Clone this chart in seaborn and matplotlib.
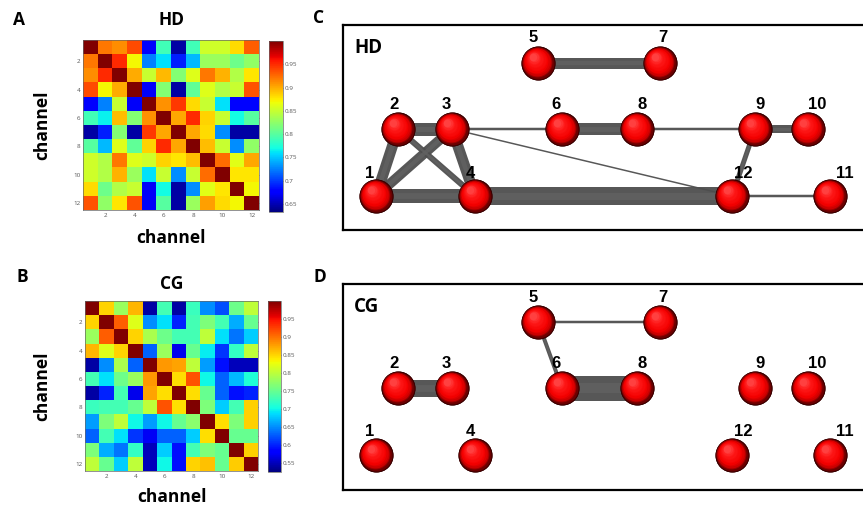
import numpy as np
import pandas as pd
import seaborn as sns
import matplotlib
matplotlib.use("Agg")
import matplotlib.pyplot as plt
from matplotlib.colors import to_rgb

# ---------------------------------------------------------------- data
channels = list(range(1, 13))

# channel-by-channel correlation, HD group
hd_corr = [
    [1.000, 0.920, 0.912, 0.937, 0.675, 0.790, 0.645, 0.790, 0.853, 0.853, 0.882, 0.930],
    [0.920, 1.000, 0.950, 0.870, 0.725, 0.760, 0.690, 0.745, 0.830, 0.830, 0.810, 0.826],
    [0.912, 0.950, 1.000, 0.900, 0.850, 0.895, 0.820, 0.860, 0.920, 0.898, 0.840, 0.878],
    [0.937, 0.870, 0.900, 1.000, 0.672, 0.820, 0.645, 0.805, 0.860, 0.840, 0.850, 0.935],
    [0.675, 0.725, 0.850, 0.672, 1.000, 0.910, 0.945, 0.882, 0.850, 0.760, 0.680, 0.680],
    [0.790, 0.765, 0.893, 0.820, 0.910, 1.000, 0.902, 0.950, 0.885, 0.850, 0.770, 0.800],
    [0.645, 0.690, 0.820, 0.645, 0.945, 0.902, 1.000, 0.902, 0.882, 0.730, 0.645, 0.645],
    [0.800, 0.745, 0.860, 0.805, 0.885, 0.950, 0.902, 1.000, 0.893, 0.850, 0.730, 0.826],
    [0.853, 0.840, 0.920, 0.860, 0.853, 0.885, 0.878, 0.893, 1.000, 0.925, 0.862, 0.902],
    [0.853, 0.840, 0.898, 0.830, 0.760, 0.850, 0.730, 0.850, 0.925, 1.000, 0.878, 0.878],
    [0.882, 0.810, 0.840, 0.850, 0.672, 0.770, 0.645, 0.730, 0.862, 0.878, 1.000, 0.870],
    [0.935, 0.826, 0.878, 0.935, 0.672, 0.800, 0.645, 0.830, 0.905, 0.882, 0.870, 1.000],
]

# channel-by-channel correlation, CG group
cg_corr = [
    [1.000, 0.850, 0.780, 0.865, 0.540, 0.730, 0.540, 0.725, 0.650, 0.620, 0.755, 0.800],
    [0.850, 1.000, 0.910, 0.820, 0.650, 0.690, 0.600, 0.730, 0.763, 0.730, 0.665, 0.750],
    [0.780, 0.910, 1.000, 0.850, 0.790, 0.755, 0.730, 0.730, 0.800, 0.690, 0.640, 0.680],
    [0.865, 0.820, 0.850, 1.000, 0.630, 0.780, 0.570, 0.750, 0.695, 0.610, 0.720, 0.800],
    [0.540, 0.650, 0.790, 0.630, 1.000, 0.880, 0.875, 0.800, 0.658, 0.590, 0.550, 0.550],
    [0.730, 0.690, 0.755, 0.780, 0.880, 1.000, 0.845, 0.915, 0.700, 0.630, 0.670, 0.710],
    [0.540, 0.600, 0.730, 0.570, 0.875, 0.845, 1.000, 0.845, 0.750, 0.630, 0.590, 0.600],
    [0.725, 0.730, 0.730, 0.750, 0.800, 0.915, 0.845, 1.000, 0.763, 0.680, 0.730, 0.853],
    [0.658, 0.763, 0.800, 0.700, 0.658, 0.700, 0.750, 0.770, 1.000, 0.845, 0.763, 0.853],
    [0.630, 0.730, 0.690, 0.610, 0.575, 0.630, 0.630, 0.680, 0.845, 1.000, 0.750, 0.750],
    [0.763, 0.665, 0.640, 0.720, 0.550, 0.680, 0.590, 0.730, 0.763, 0.750, 1.000, 0.853],
    [0.800, 0.750, 0.680, 0.800, 0.550, 0.700, 0.590, 0.850, 0.860, 0.750, 0.855, 1.000],
]

hd_range = (0.633, 1.0)
cg_range = (0.525, 1.0)
hd_cbar_ticks = [0.65, 0.70, 0.75, 0.80, 0.85, 0.90, 0.95]
cg_cbar_ticks = [0.55, 0.60, 0.65, 0.70, 0.75, 0.80, 0.85, 0.90, 0.95]
matrix_ticks = [2, 4, 6, 8, 10, 12]

# network layout (box units, y grows downward)
node_x = [33, 55, 109, 132, 195, 219, 317, 294, 412, 465, 487, 389]
node_y = [171, 104, 104, 171, 38, 104, 38, 104, 104, 104, 171, 171]

# edges: (node a, node b, edge thickness)
hd_edges = [
    (5, 7, 11), (2, 3, 13), (1, 2, 11), (1, 3, 10), (1, 4, 14), (2, 4, 6),
    (3, 4, 11), (4, 12, 18), (3, 6, 2.5), (6, 8, 12), (8, 9, 2.5),
    (9, 10, 8), (9, 12, 5), (3, 12, 1.5), (12, 11, 2.5),
]
cg_edges = [(5, 7, 2.5), (5, 6, 4), (2, 3, 17), (6, 8, 25)]

# ---------------------------------------------------------------- style
W, H = 863, 508
sns.set_style("white")
plt.rcParams["font.family"] = ["Open Sans", "DejaVu Sans"]
plt.rcParams["text.color"] = "black"
HEAD = dict(fontsize=12.5, fontweight="bold", color="black")

label_offset = {1: (-6, -23), 2: (-4, -24), 3: (-6, -24), 4: (-5, -23),
                5: (-5, -25), 6: (-6, -24), 7: (3, -25), 8: (5, -24),
                9: (5, -24), 10: (9, -24), 11: (15, -23), 12: (11, -23)}

fig = plt.figure(figsize=(W / 100, H / 100), dpi=100)
fig.patch.set_facecolor("white")


def px_axes(x0, y0, w, h):
    return fig.add_axes([x0 / W, 1 - (y0 + h) / H, w / W, h / H])


def draw_matrix(mat, rng, cticks, box, cbox, title, letter, title_y, letter_pos, xlab_y):
    ax = px_axes(*box)
    cax = px_axes(*cbox)
    df = pd.DataFrame(mat, index=channels, columns=channels)
    sns.heatmap(df, ax=ax, cbar_ax=cax, cmap="jet", vmin=rng[0], vmax=rng[1],
                xticklabels=False, yticklabels=False)
    pos = [c - 0.5 for c in matrix_ticks]
    ax.set_xticks(pos)
    ax.set_xticklabels([str(c) for c in matrix_ticks])
    ax.set_yticks(pos)
    ax.set_yticklabels([str(c) for c in matrix_ticks], rotation=0)
    ax.tick_params(axis="both", labelsize=4.5, labelcolor="#555555", length=2,
                   width=0.4, direction="in", color="#444444",
                   top=True, right=True, pad=2)
    for s in ax.spines.values():
        s.set_visible(True)
        s.set_linewidth(0.5)
        s.set_color("#666666")
    ax.set_xlabel("")
    ax.set_ylabel("")

    cb = ax.collections[0].colorbar
    cb.set_ticks(cticks)
    cb.set_ticklabels([f"{t:g}" for t in cticks])
    cb.ax.tick_params(labelsize=4.5, labelcolor="#555555", length=2, width=0.4,
                      direction="in", color="#444444", pad=1)
    cb.outline.set_linewidth(0.5)
    cb.outline.set_edgecolor("#666666")

    cx = box[0] + box[2] / 2
    fig.text(cx / W, 1 - title_y / H, title, ha="center", va="center", **HEAD)
    fig.text(letter_pos[0] / W, 1 - letter_pos[1] / H, letter, ha="left",
             va="center", **HEAD)
    fig.text(cx / W, 1 - xlab_y / H, "channel", ha="center", va="center", **HEAD)
    fig.text(42 / W, 1 - (box[1] + box[3] / 2) / H, "channel", ha="center",
             va="center", rotation=90, **HEAD)


def sphere(ax, x, y, R=17, n=14):
    stops = [(0.0, "#3a0000"), (0.22, "#c80000"), (0.4, "#f50000"),
             (0.8, "#ff1a1a"), (1.0, "#ff4040")]

    def col(f):
        for (f0, c0), (f1, c1) in zip(stops[:-1], stops[1:]):
            if f <= f1:
                t = (f - f0) / (f1 - f0)
                a, b = np.array(to_rgb(c0)), np.array(to_rgb(c1))
                return tuple(a + (b - a) * t)
        return to_rgb(stops[-1][1])

    for i in range(n):
        f = i / (n - 1)
        r = R * (1 - 0.78 * f)
        shift = R - r
        cx = x - 0.35 * shift
        cy = y - 0.45 * shift
        d_pt = 2 * r * 0.72
        ax.scatter([cx], [cy], s=d_pt ** 2, color=col(f), linewidths=0,
                   zorder=3 + i * 0.01)


def draw_network(edges, box, tag, letter, letter_pos):
    ax = px_axes(*box)
    ax.set_xlim(0, box[2])
    ax.set_ylim(box[3], 0)
    ax.set_xticks([])
    ax.set_yticks([])
    ax.set_facecolor("white")
    for side in ("left", "top", "bottom"):
        ax.spines[side].set_visible(True)
        ax.spines[side].set_linewidth(1.6)
        ax.spines[side].set_color("black")
    ax.spines["right"].set_visible(False)

    for a, b, w in edges:
        xs = [node_x[a - 1], node_x[b - 1]]
        ys = [node_y[a - 1], node_y[b - 1]]
        ax.plot(xs, ys, color="#4e4e4e", lw=w * 0.72, alpha=0.95,
                solid_capstyle="butt", zorder=1)
        if w >= 4:
            ax.plot(xs, ys, color="#626262", lw=w * 0.72 * 0.4, alpha=0.8,
                    solid_capstyle="butt", zorder=1.5)

    nodes = pd.DataFrame({"node": channels, "x": node_x, "y": node_y})
    sns.scatterplot(data=nodes, x="x", y="y", ax=ax, s=(34 * 0.72) ** 2,
                    color="#3a0000", linewidth=0, legend=False, zorder=2)
    for _, r in nodes.iterrows():
        sphere(ax, r["x"], r["y"])
        dx, dy = label_offset[int(r["node"])]
        ax.text(r["x"] + dx, r["y"] + dy, str(int(r["node"])), ha="center",
                va="center", fontsize=12, fontweight="bold", color="black",
                family=["Liberation Sans", "DejaVu Sans"], zorder=5)
    ax.set_xlabel("")
    ax.set_ylabel("")
    ax.text(11, 23, tag, ha="left", va="center", fontsize=13.5,
            fontweight="bold", color="black", zorder=5)
    fig.text(letter_pos[0] / W, 1 - letter_pos[1] / H, letter, ha="left",
             va="center", **HEAD)


draw_matrix(hd_corr, hd_range, hd_cbar_ticks, (83, 40, 176, 170), (269, 41, 14, 171),
            "HD", "A", 20, (13, 20), 238)
draw_matrix(cg_corr, cg_range, cg_cbar_ticks, (85, 301, 173, 170), (268, 301, 13, 171),
            "CG", "B", 284, (17, 277), 497)
draw_network(hd_edges, (343, 25, 530, 205), "HD", "C", (313, 18))
draw_network(cg_edges, (343, 284, 530, 206), "CG", "D", (313, 277))

fig.savefig("out.png", dpi=100, facecolor="white")
